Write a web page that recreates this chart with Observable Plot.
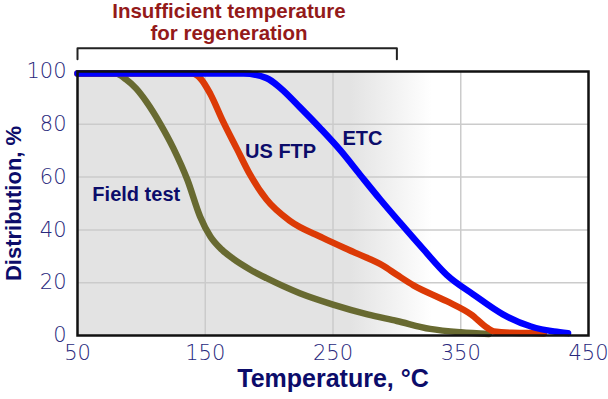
<!DOCTYPE html>
<html>
<head>
<meta charset="utf-8">
<script src="https://cdn.jsdelivr.net/npm/d3@7"></script>
<script src="https://cdn.jsdelivr.net/npm/@observablehq/plot@0.6"></script>
<style>
  html, body { margin: 0; padding: 0; background: #fff; }
  #chart svg { display: block; }
</style>
</head>
<body>
<div id="chart"></div>
<script>
// ---- data ----
const fieldTestT = [50, 80, 88, 96, 104, 115, 125, 136, 146, 154, 163, 172, 185, 198, 224, 250, 277, 300, 326, 350, 372];
const fieldTestD = [99.2, 99.2, 97, 93.5, 88.5, 80, 71, 59, 45, 37.5, 32.5, 29, 25, 21.7, 16, 11.7, 8, 5.5, 2.5, 1.2, 0.6];

const usFtpT = [50, 140, 146, 154, 164, 175, 185, 198, 216, 242, 269, 289, 300, 313, 339, 358, 371, 376, 390, 405, 415];
const usFtpD = [99.2, 99.2, 97.5, 91.5, 81, 70.5, 61, 51.5, 43.5, 37, 31, 26.5, 23, 19, 13, 8, 2.8, 1.5, 1, 0.9, 0.8];

const etcT = [50, 180, 198, 209, 224, 240, 256, 271, 287, 302, 321, 339, 360, 383, 405, 423, 434];
const etcD = [99.2, 99.2, 97.5, 93.7, 86.5, 78.5, 70, 61, 51.5, 43, 32.5, 23, 15.5, 8, 3.4, 1.5, 0.9];

const seriesNames = ["Field test", "US FTP", "ETC"];
const seriesLabelT = [96, 209, 273];
const seriesLabelD = [53.5, 69.5, 74.5];

const xTicks = [50, 150, 250, 350, 450];
const yTicks = [0, 20, 40, 60, 80, 100];
const xGrid = [150, 250, 350];
const yGrid = [20, 40, 60, 80];

const regenRange = [50, 300];       // "Insufficient temperature for regeneration"
const fadeRange = [264, 328];       // background fades from grey to white
const titleText = "Insufficient temperature\nfor regeneration";
const xLabel = "Temperature, °C";
const yLabel = "Distribution, %";

// ---- build tables ----
const toRows = (T, D) => T.map((t, i) => ({t, d: D[i]}));
const fieldRows = toRows(fieldTestT, fieldTestD);
const ftpRows = toRows(usFtpT, usFtpD);
const etcRows = toRows(etcT, etcD);
const labelRows = seriesNames.map((n, i) => ({n, t: seriesLabelT[i], d: seriesLabelD[i]}));

const navy = "#0c0c6a";
const tickNavy = "#28287c";
const bracketTop = 108.8, bracketFoot = 104.6;
const tickFont = "'DejaVu Sans', sans-serif";

const plot = Plot.plot({
  width: 608,
  height: 399,
  marginLeft: 77,
  marginRight: 20,
  marginTop: 71,
  marginBottom: 64,
  style: {background: "transparent", fontFamily: "'Liberation Sans', Arial, sans-serif"},
  x: {domain: [50, 450]},
  y: {domain: [0, 100]},
  marks: [
    Plot.rect([{x1: 50, x2: 450, y1: 0, y2: 100}], {x1: "x1", x2: "x2", y1: "y1", y2: "y2", fill: "url(#bgFade)"}),
    Plot.ruleX(xGrid, {stroke: "#cbcbcb", strokeWidth: 1.5}),
    Plot.ruleY(yGrid, {stroke: "#cbcbcb", strokeWidth: 1.5}),
    Plot.line(fieldRows, {x: "t", y: "d", stroke: "#686a31", strokeWidth: 6.5, curve: "monotone-x"}),
    Plot.line(ftpRows, {x: "t", y: "d", stroke: "#dc3a06", strokeWidth: 6.5, curve: "monotone-x"}),
    Plot.line(etcRows, {x: "t", y: "d", stroke: "#0000ff", strokeWidth: 6.5, curve: "monotone-x"}),
    Plot.frame({stroke: "#111", strokeWidth: 2.5}),
    Plot.text(labelRows, {x: "t", y: "d", text: "n", fill: navy, fontSize: 20, fontWeight: "bold"}),
    Plot.axisX(xTicks, {tickSize: 0, tickPadding: 10, fontSize: 21, fontWeight: 300, fontFamily: tickFont, fill: tickNavy, label: null}),
    Plot.axisY(yTicks, {tickSize: 0, tickPadding: 11, fontSize: 21, fontWeight: 300, fontFamily: tickFont, fill: tickNavy, label: null}),
    Plot.text([xLabel], {frameAnchor: "bottom", dy: 51, fill: navy, fontSize: 25, fontWeight: "bold"}),
    Plot.text([yLabel], {frameAnchor: "left", textAnchor: "middle", dx: -64, rotate: -90, fill: navy, fontSize: 22, fontWeight: "bold"}),
    Plot.line([[regenRange[0], bracketFoot], [regenRange[0], bracketTop], [regenRange[1], bracketTop], [regenRange[1], bracketFoot]],
      {stroke: "#222", strokeWidth: 2, clip: false}),
    Plot.text([titleText], {frameAnchor: "top", dx: -104, dy: -69, lineHeight: 1.07, fill: "#941a1a", fontSize: 20.5, fontWeight: "bold"})
  ]
});

// background gradient positioned through the x scale
const xs = plot.scale("x");
const defs = d3.select(plot).insert("defs", ":first-child");
const grad = defs.append("linearGradient")
  .attr("id", "bgFade")
  .attr("gradientUnits", "userSpaceOnUse")
  .attr("x1", xs.apply(fadeRange[0])).attr("x2", xs.apply(fadeRange[1]))
  .attr("y1", 0).attr("y2", 0);
grad.append("stop").attr("offset", 0).attr("stop-color", "#e3e3e3");
grad.append("stop").attr("offset", 1).attr("stop-color", "#ffffff");

document.getElementById("chart").appendChild(plot);
</script>
</body>
</html>
